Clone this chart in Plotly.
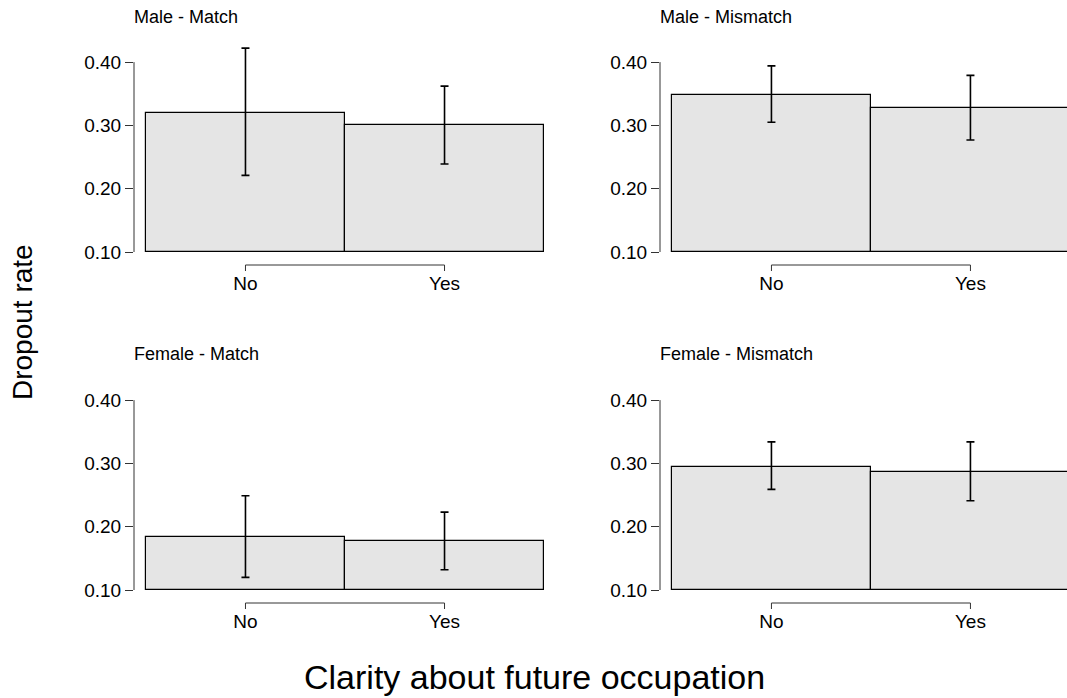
import plotly.graph_objects as go

# ---------------- data ----------------
categories = ["No", "Yes"]
panel_titles = ["Male - Match", "Male - Mismatch", "Female - Match", "Female - Mismatch"]

male_match = [0.320, 0.300]
male_match_lo = [0.221, 0.239]
male_match_hi = [0.422, 0.362]

male_mismatch = [0.348, 0.327]
male_mismatch_lo = [0.305, 0.277]
male_mismatch_hi = [0.394, 0.379]

female_match = [0.183, 0.177]
female_match_lo = [0.120, 0.132]
female_match_hi = [0.249, 0.223]

female_mismatch = [0.295, 0.287]
female_mismatch_lo = [0.259, 0.241]
female_mismatch_hi = [0.334, 0.334]

y_ticks = [0.10, 0.20, 0.30, 0.40]
baseline = 0.10
x_pos = [0, 1]

panels = [
    (male_match, male_match_lo, male_match_hi),
    (male_mismatch, male_mismatch_lo, male_mismatch_hi),
    (female_match, female_match_lo, female_match_hi),
    (female_mismatch, female_mismatch_lo, female_mismatch_hi),
]

# ---------------- layout geometry (pixels) ----------------
W, H = 1067, 698
FONT = "Liberation Sans, Arial, sans-serif"
AX = "#333333"

col_px = [(134, 556), (660, 1067)]
col_range = [(-0.56, 1.56), (-0.56, -0.56 + (1067 - 660) / 199.0)]
row_px = [(30, 265), (368, 603)]  # top, bottom pixel of plot area
y_range = [0.10 - 13 / 633.0, 0.10 + (252 - 30) / 633.0]
title_y_px = [17, 354]

fig = go.Figure()
shapes = []
annotations = []

for i, (vals, lo, hi) in enumerate(panels):
    r, c = divmod(i, 2)
    n = i + 1
    xa = "x" if n == 1 else f"x{n}"
    ya = "y" if n == 1 else f"y{n}"
    fig.add_trace(go.Bar(
        x=x_pos,
        y=[v - baseline for v in vals],
        base=[baseline] * len(vals),
        width=1.0,
        marker=dict(color="#e5e5e5", line=dict(color="black", width=1.2)),
        error_y=dict(
            type="data", symmetric=False,
            array=[h - v for h, v in zip(hi, vals)],
            arrayminus=[v - l for v, l in zip(vals, lo)],
            color="black", thickness=1.6, width=4,
        ),
        xaxis=xa, yaxis=ya, showlegend=False, hoverinfo="skip",
    ))
    x0p, x1p = col_px[c]
    t, b = row_px[r]
    xk = "xaxis" if n == 1 else f"xaxis{n}"
    yk = "yaxis" if n == 1 else f"yaxis{n}"
    fig.layout[xk] = dict(
        domain=[x0p / W, x1p / W], range=list(col_range[c]), anchor=ya,
        tickmode="array", tickvals=x_pos, ticktext=categories,
        ticks="", ticklabelstandoff=5,
        showline=False, showgrid=False, zeroline=False,
        tickfont=dict(family=FONT, size=19, color="black"), fixedrange=True,
    )
    fig.layout[yk] = dict(
        domain=[1 - b / H, 1 - t / H], range=list(y_range), anchor=xa,
        tickmode="array", tickvals=y_ticks, tickformat=".2f",
        ticks="outside", ticklen=8, tickwidth=1, tickcolor=AX,
        showline=False, showgrid=False, zeroline=False,
        tickfont=dict(family=FONT, size=19, color="black"), fixedrange=True,
    )
    # R-style axis lines spanning only the tick range
    shapes.append(dict(type="line", xref=f"{xa} domain", yref=ya,
                       x0=0, x1=0, y0=y_ticks[0], y1=y_ticks[-1],
                       line=dict(color=AX, width=1)))
    shapes.append(dict(type="line", xref=xa, yref=f"{ya} domain",
                       x0=x_pos[0], x1=x_pos[-1], y0=0, y1=0,
                       line=dict(color=AX, width=1)))
    # short downward tick marks at each category (R style)
    for xv in x_pos:
        shapes.append(dict(type="line", xref=xa, yref=f"{ya} domain",
                           ysizemode="pixel", yanchor=0,
                           x0=xv, x1=xv, y0=0, y1=-6,
                           line=dict(color=AX, width=1)))
    annotations.append(dict(
        text=panel_titles[i], xref="paper", yref="paper",
        x=(x0p - 2) / W, y=1 - title_y_px[r] / H,
        xanchor="left", yanchor="middle", showarrow=False,
        font=dict(family=FONT, size=18, color="black"),
    ))

annotations.append(dict(
    text="Dropout rate", xref="paper", yref="paper",
    x=22 / W, y=1 - 322 / H, textangle=-90,
    xanchor="center", yanchor="middle", showarrow=False,
    font=dict(family=FONT, size=28, color="black"),
))
annotations.append(dict(
    text="Clarity about future occupation", xref="paper", yref="paper",
    x=534 / W, y=1 - 677 / H,
    xanchor="center", yanchor="middle", showarrow=False,
    font=dict(family=FONT, size=34, color="black"),
))

fig.update_layout(
    width=W, height=H,
    margin=dict(l=0, r=0, t=0, b=0),
    paper_bgcolor="white", plot_bgcolor="white",
    shapes=shapes, annotations=annotations,
    bargap=0, showlegend=False,
)

fig.write_html("out.html", include_plotlyjs=True,
               config={"displayModeBar": False},
               post_script="document.body.style.margin='0px';")
